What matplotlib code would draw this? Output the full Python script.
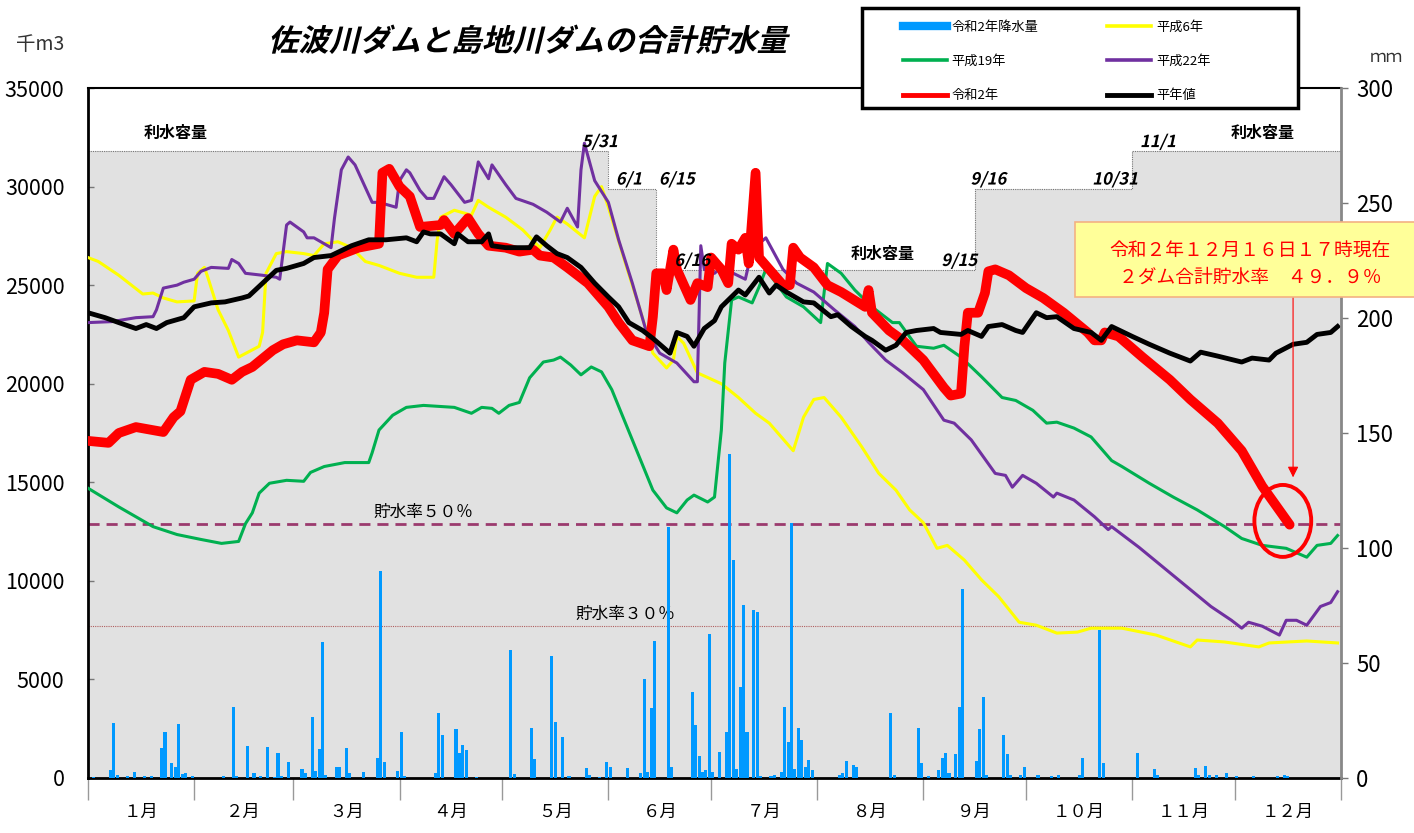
import numpy as np
import matplotlib
matplotlib.use('Agg')
import matplotlib.pyplot as plt
from matplotlib.lines import Line2D
from matplotlib.patches import Rectangle, Ellipse
from matplotlib.patheffects import AbstractPathEffect
from matplotlib.transforms import Affine2D

plt.rcParams['font.family'] = ['Noto Sans CJK JP', 'DejaVu Sans']

# ---------------- data ----------------
month_labels = ['１月', '２月', '３月', '４月', '５月', '６月',
                '７月', '８月', '９月', '１０月', '１１月', '１２月']
month_starts = [0, 31, 60, 91, 121, 152, 182, 213, 244, 274, 305, 335, 366]

# 利水容量 (step levels, 千m3)
cap_days = [0, 152, 166, 259, 305, 366]
cap_vals = [31800, 29900, 25770, 29900, 31800, 31800]

# 令和2年
red_days = [0, 6, 9, 14, 22, 25, 27, 30, 34, 38, 42, 45, 48, 54, 57, 61, 66, 68, 69, 70,
            73, 79, 85, 86, 88, 91, 94, 97, 103, 104, 107, 111, 114, 117, 122, 126, 130,
            132, 136, 140, 146, 152, 155, 159, 164, 165, 166, 168, 169, 171, 172, 176,
            178, 181, 182, 185, 187, 188, 190, 192, 193, 195, 196, 200, 203, 205, 206,
            208, 212, 216, 220, 227, 228, 229, 234, 238, 244, 250, 252, 255, 256, 257,
            260, 262, 263, 265, 269, 274, 279, 285, 292, 294, 296, 297, 301, 308, 316,
            322, 330, 337, 343, 351]
red_vals = [17100, 17000, 17500, 17800, 17550, 18300, 18600, 20200, 20600, 20500, 20200,
            20600, 20850, 21700, 22000, 22200, 22100, 22600, 23600, 25800, 26500, 26900,
            27100, 30700, 30900, 30000, 29500, 27950, 28050, 28300, 27600, 28400, 27600,
            27000, 26900, 26700, 26800, 26500, 26400, 25900, 25100, 23900, 23100, 22200,
            21900, 23400, 25600, 25600, 24750, 26800, 25800, 24250, 25100, 24900, 26400,
            25800, 25100, 27100, 26800, 27400, 26100, 30700, 26400, 25600, 25000, 25000,
            26900, 26400, 25900, 25000, 24650, 23900, 24750, 23600, 22700, 22200, 21200,
            19800, 19400, 19500, 21900, 23600, 23600, 24600, 25700, 25800, 25500, 24850,
            24350, 23600, 22600, 22200, 22200, 22600, 22400, 21350, 20200, 19200, 18000,
            16600, 14800, 12850]

# 平年値
avg_days = [0, 5, 9, 14, 17, 20, 23, 28, 31, 36, 40, 45, 47, 51, 55, 58, 61, 63, 66, 71,
            77, 82, 87, 93, 96, 98, 100, 103, 107, 108, 111, 115, 117, 118, 122, 129, 131,
            134, 137, 140, 144, 148, 152, 155, 158, 162, 165, 170, 172, 175, 177, 180,
            183, 185, 190, 192, 196, 199, 201, 204, 209, 212, 217, 219, 223, 227, 229,
            233, 236, 239, 242, 247, 249, 255, 257, 261, 263, 267, 271, 273, 277, 280,
            283, 288, 293, 296, 299, 305, 310, 316, 322, 325, 330, 337, 340, 345, 347,
            352, 356, 359, 363, 365]
avg_vals = [23600, 23350, 23100, 22800, 23000, 22800, 23100, 23350, 23900, 24100, 24150,
            24350, 24450, 25100, 25750, 25850, 26000, 26100, 26400, 26500, 27000, 27300,
            27300, 27400, 27200, 27700, 27600, 27600, 27100, 27600, 27200, 27200, 27600,
            27000, 26900, 26900, 27450, 27000, 26600, 26400, 25900, 25100, 24400, 23900,
            23100, 22700, 22300, 21550, 22600, 22400, 21900, 22800, 23200, 23900, 24750,
            24500, 25400, 24600, 25000, 24650, 24150, 24100, 23400, 23500, 22900, 22400,
            22200, 21700, 21950, 22600, 22700, 22800, 22600, 22500, 22700, 22400, 22900,
            23000, 22700, 22600, 23600, 23350, 23400, 22800, 22600, 22200, 22900, 22400,
            22000, 21550, 21150, 21600, 21400, 21100, 21300, 21200, 21550, 22000, 22100,
            22500, 22600, 22900]

# 平成22年
h22_days = [0, 7, 14, 19, 20, 22, 26, 28, 31, 33, 36, 41, 42, 44, 46, 51, 55, 56, 58, 59,
            63, 64, 66, 71, 72, 74, 76, 78, 83, 85, 87, 90, 91, 93, 94, 97, 99, 101, 104,
            106, 110, 112, 114, 117, 118, 122, 125, 130, 134, 138, 140, 143, 144, 145,
            148, 152, 155, 159, 163, 167, 172, 177, 178, 179, 180, 183, 185, 192, 194,
            198, 203, 207, 212, 218, 224, 228, 233, 238, 244, 250, 253, 258, 265, 268,
            270, 273, 277, 282, 283, 288, 294, 298, 299, 307, 314, 321, 328, 334, 337,
            339, 343, 348, 350, 353, 356, 360, 363, 365]
h22_vals = [23100, 23150, 23350, 23400, 23750, 24850, 25000, 25150, 25300, 25700, 25900,
            25850, 26300, 26100, 25600, 25500, 25400, 25300, 28050, 28200, 27700, 27400,
            27400, 26900, 28400, 30850, 31500, 31100, 29200, 29200, 29100, 28950, 30300,
            30850, 30700, 29800, 29400, 29400, 30500, 30100, 29200, 29300, 31250, 30400,
            31100, 30100, 29400, 29100, 28700, 28200, 28900, 27950, 30850, 32200, 30300,
            29200, 27300, 25100, 22700, 21550, 21050, 20100, 20100, 27000, 25800, 25600,
            25900, 25300, 26800, 27400, 25800, 25100, 24650, 23750, 22900, 22100, 21200,
            20550, 19700, 18150, 18000, 17150, 15450, 15350, 14750, 15350, 14950, 14250,
            14450, 14100, 13250, 12600, 12750, 11700, 10700, 9700, 8700, 8000, 7600, 7900,
            7700, 7250, 8000, 8000, 7750, 8700, 8900, 9450]

# 平成6年
h6_days = [0, 3, 9, 16, 19, 22, 26, 31, 32, 34, 35, 38, 41, 44, 50, 51, 52, 55, 58, 63, 66,
           69, 73, 77, 81, 85, 91, 96, 101, 102, 103, 107, 112, 114, 117, 122, 127, 132,
           135, 137, 140, 145, 148, 150, 152, 157, 161, 165, 169, 171, 172, 174, 178, 185,
           190, 195, 199, 206, 209, 212, 215, 220, 226, 231, 236, 240, 244, 248, 251, 256,
           261, 266, 272, 277, 283, 289, 293, 302, 312, 322, 324, 332, 342, 345, 356, 365]
h6_vals = [26400, 26200, 25500, 24550, 24600, 24350, 24150, 24200, 25600, 25900, 25400,
           23750, 22700, 21350, 21900, 22600, 25600, 26600, 26700, 26600, 26500, 27100,
           27200, 26900, 26200, 26000, 25600, 25400, 25400, 27300, 28450, 28800, 28550,
           29300, 28950, 28450, 27800, 26900, 27800, 28450, 28100, 27400, 29500, 30000,
           28950, 26100, 23900, 21550, 20800, 21200, 22400, 22050, 20550, 20000, 19300,
           18500, 18000, 16600, 18300, 19200, 19300, 18300, 16800, 15450, 14600, 13600,
           12950, 11650, 11800, 11050, 10050, 9200, 7900, 7750, 7350, 7400, 7600, 7600,
           7250, 6650, 7000, 6900, 6650, 6850, 6950, 6850]

# 平成19年
h19_days = [0, 9, 14, 19, 26, 33, 39, 44, 46, 48, 50, 53, 58, 63, 65, 69, 75, 82, 83, 85,
            89, 93, 98, 107, 112, 115, 118, 120, 123, 126, 129, 133, 136, 138, 141, 144,
            147, 150, 153, 157, 161, 165, 169, 172, 175, 177, 181, 183, 185, 186, 188,
            190, 194, 196, 198, 204, 209, 214, 216, 220, 224, 229, 235, 237, 242, 247,
            250, 255, 261, 267, 271, 276, 280, 283, 288, 293, 299, 302, 310, 317, 324,
            332, 337, 343, 350, 356, 359, 363, 365]
h19_vals = [14700, 13750, 13250, 12750, 12350, 12100, 11900, 12000, 12900, 13450, 14450,
            14950, 15100, 15050, 15500, 15800, 16000, 16000, 16500, 17650, 18400, 18800,
            18900, 18800, 18500, 18800, 18750, 18500, 18900, 19050, 20300, 21100, 21200,
            21350, 20950, 20450, 20850, 20600, 19700, 18000, 16300, 14600, 13700, 13450,
            14100, 14350, 14000, 14250, 17650, 21050, 24250, 24400, 24100, 24900, 25800,
            24400, 23900, 23100, 26100, 25600, 24750, 23900, 23100, 23100, 21900, 21800,
            21950, 21350, 20350, 19300, 19150, 18650, 18000, 18050, 17750, 17300, 16100,
            15800, 14950, 14250, 13600, 12750, 12150, 11800, 11650, 11200, 11800, 11900,
            12300]

# 令和2年降水量 (mm/day)
rain_days = [1, 6, 7, 8, 11, 13, 16, 18, 21, 22, 24, 25, 26, 27, 28, 30, 39, 42, 43, 46,
             48, 50, 52, 54, 55, 56, 58, 62, 63, 65, 66, 67, 68, 69, 72, 73, 75, 76, 80,
             84, 85, 86, 90, 91, 92, 101, 102, 103, 107, 108, 109, 110, 113, 123, 124,
             129, 130, 135, 136, 138, 140, 145, 146, 149, 151, 152, 157, 161, 162, 163,
             164, 165, 169, 170, 176, 177, 178, 179, 180, 181, 182, 184, 186, 187, 188,
             189, 190, 191, 192, 194, 195, 196, 199, 200, 202, 203, 204, 205, 206, 207,
             208, 209, 210, 211, 219, 220, 221, 223, 224, 234, 235, 242, 243, 245, 248,
             249, 250, 251, 253, 254, 255, 259, 260, 261, 262, 267, 268, 269, 272, 273,
             277, 281, 283, 289, 290, 295, 296, 306, 311, 312, 323, 324, 326, 327, 329,
             332, 335, 340, 347, 349, 350]
rain_mm = [0.5, 3.5, 24, 1.5, 1, 2.6, 0.7, 0.7, 13, 20, 6.5, 4.8, 23.5, 1.7, 2.2, 0.8, 0.8,
           31, 0.8, 14, 2.2, 0.8, 13.5, 0.5, 11, 0.8, 7, 3.9, 2.2, 26.5, 3, 12.6, 59, 1.5,
           4.8, 4.8, 13, 2.2, 2.6, 8.7, 90, 7, 3, 20, 0.8, 2.2, 28.3, 18.7, 21.3, 10.9,
           14.3, 12.2, 0.5, 55.7, 1.7, 21.7, 8.3, 53, 24.3, 17.8, 0.8, 4.3, 1.3, 0.5, 7,
           4.8, 4.3, 2.2, 43, 2.6, 30.4, 59.6, 109, 4.8, 37.4, 23, 9.6, 2.6, 3.5, 62.6,
           2.6, 11.3, 20, 141, 94.8, 4, 39.6, 75.2, 20, 73, 72.2, 1, 1, 1.5, 2.6, 31,
           15.7, 110.9, 4, 21.7, 16.5, 4.8, 7.7, 3.5, 1.2, 2, 7.4, 5.6, 4.8, 28.3, 1.2,
           21.7, 6.5, 0.9, 3.3, 8.7, 10.9, 2, 10.4, 31, 82.2, 7.4, 21.3, 35.2, 1.2, 18.7,
           10.4, 1.2, 1.2, 4.8, 1.4, 0.9, 1.2, 1.4, 8.7, 64.3, 6.5, 10.9, 4, 1.2, 4.5,
           1.2, 5.2, 1.2, 1.2, 2.3, 0.9, 0.9, 0.9, 1.4, 0.9]

rate50 = 12880
rate30 = 7710

left_ticks = list(range(0, 35001, 5000))
right_ticks = list(range(0, 301, 50))

# ---------------- helpers ----------------
class Slant(AbstractPathEffect):
    def __init__(self, deg=14):
        super().__init__()
        self._skew = Affine2D().skew_deg(deg, 0)

    def draw_path(self, renderer, gc, tpath, affine, rgbFace=None):
        renderer.draw_path(gc, tpath, self._skew + affine, rgbFace)


NUM_FONT = ['Liberation Sans Narrow', 'Noto Sans CJK JP', 'DejaVu Sans']

# ---------------- figure ----------------
W, H = 1414, 833
fig = plt.figure(figsize=(W / 100, H / 100), dpi=100)
fig.patch.set_facecolor('white')
ax = fig.add_axes([88 / W, 1 - 778 / H, (1341 - 88) / W, (778 - 88) / H])
ax.set_xlim(0, 366)
ax.set_ylim(0, 35000)

# water-use capacity region
ax.fill_between(cap_days, cap_vals, 0, step='post', color='#e1e1e1', lw=0, zorder=0)
ax.step(cap_days, cap_vals, where='post', color='#777777', lw=0.8, ls=(0, (1, 1)), zorder=1)

# reference lines
ax.axhline(rate50, color='#9b3a6e', lw=2.0, ls=(0, (4, 2.5)), zorder=2)
ax.axhline(rate30, color='#b06060', lw=0.8, ls=(0, (1, 1)), zorder=2)

# storage lines
ax.plot(h6_days, h6_vals, color='#ffff00', lw=2.2, zorder=4)
ax.plot(h19_days, h19_vals, color='#00b050', lw=2.2, zorder=4)
ax.plot(h22_days, h22_vals, color='#7030a0', lw=2.2, zorder=4)
ax.plot(red_days, red_vals, color='#ff0000', lw=7, solid_capstyle='round',
        solid_joinstyle='round', zorder=5)
ax.plot(avg_days, avg_vals, color='#000000', lw=3.5, solid_joinstyle='round', zorder=6)

# axes styling
for s in ['left', 'bottom', 'top']:
    ax.spines[s].set_color('black')
ax.spines['left'].set_linewidth(2)
ax.spines['bottom'].set_linewidth(2)
ax.spines['top'].set_linewidth(1.5)
ax.spines['right'].set_visible(False)

ax.set_yticks(left_ticks)
ax.set_yticklabels([str(v) for v in left_ticks], fontfamily=NUM_FONT, fontsize=15.5)
ax.tick_params(axis='y', direction='in', length=4, width=1, color='#777777', pad=17)

ax.set_xticks(month_starts)
ax.set_xticklabels([])
ax.tick_params(axis='x', which='major', direction='out', length=16, width=1, color='#999999')
mids = [(a + b) / 2 for a, b in zip(month_starts[:-1], month_starts[1:])]
ax.set_xticks(mids, minor=True)
ax.set_xticklabels(month_labels, minor=True, fontsize=12.5)
ax.tick_params(axis='x', which='minor', length=0, pad=18)

# rainfall on right axis
ax2 = ax.twinx()
ax2.set_ylim(0, 300)
ax2.bar(np.array(rain_days) + 0.5, rain_mm, width=0.9, color='#0099ff', lw=0, zorder=3)
ax2.set_yticks(right_ticks)
ax2.set_yticklabels([str(v) for v in right_ticks], fontfamily=NUM_FONT, fontsize=16)
ax2.tick_params(axis='y', direction='out', length=5, width=1, color='#777777', pad=6)
for s in ['left', 'bottom', 'top']:
    ax2.spines[s].set_visible(False)
ax2.spines['right'].set_color('#888888')
ax2.spines['right'].set_linewidth(2)

# text labels
lbl_kw = dict(fontsize=11.5, fontweight='bold', color='black', zorder=7)
ax.text(25.5, 32300, '利水容量', ha='center', va='bottom', **lbl_kw)
ax.text(232, 26200, '利水容量', ha='center', va='bottom', **lbl_kw)
ax.text(343, 32300, '利水容量', ha='center', va='bottom', **lbl_kw)

date_kw = dict(fontsize=12, fontweight='bold', fontfamily=NUM_FONT, color='black',
               va='bottom', ha='center', zorder=7)
for d, v, t in [(149.5, 31800, '5/31'), (158, 29900, '6/1'), (172, 29900, '6/15'),
                (176.5, 25770, '6/16'), (254.5, 25770, '9/15'), (263, 29900, '9/16'),
                (300, 29900, '10/31'), (312.5, 31800, '11/1')]:
    t_ = ax.text(d, v, t, **date_kw)
    t_.set_path_effects([Slant(12)])

ax.text(98, rate50 + 150, '貯水率５０％', ha='center', va='bottom', fontsize=12, zorder=7)
ax.text(157, rate30 + 150, '貯水率３０％', ha='center', va='bottom', fontsize=12, zorder=7)

# current status annotation
last_d, last_v = red_days[-1], red_vals[-1]
ax.add_patch(Ellipse((last_d - 2, last_v + 190), 16.6, 3650, fill=False,
                     edgecolor='#ff0000', lw=2.8, zorder=8))
ax.annotate('', xy=(last_d + 1, last_v + 2400), xytext=(last_d + 1, 24400),
            arrowprops=dict(arrowstyle='-|>', color='#ff0000', lw=0.8,
                            mutation_scale=16, shrinkA=0, shrinkB=0), zorder=8)
fig.add_artist(Rectangle((1075 / W, 1 - 297 / H), (W - 1075) / W + 0.01, 75 / H,
                         transform=fig.transFigure, facecolor='#ffff99',
                         edgecolor='#f4b183', lw=1.2, zorder=9))
fig.text(1250 / W, 1 - 251 / H, '令和２年１２月１６日１７時現在', color='#ff0000',
         fontsize=13.5, ha='center', va='center', zorder=10)
fig.text(1250 / W, 1 - 277 / H, '２ダム合計貯水率　４９．９％', color='#ff0000',
         fontsize=13.5, ha='center', va='center', zorder=10)

# title & units
ttl = fig.text(527 / W, 1 - 42 / H, '佐波川ダムと島地川ダムの合計貯水量', fontsize=22,
               fontweight='bold', ha='center', va='center')
ttl.set_path_effects([Slant(14)])
fig.text(40 / W, 1 - 44 / H, '千m3', fontsize=14, ha='center', va='center', color='#333333')
fig.text(1386 / W, 1 - 58 / H, 'ｍｍ', fontsize=12, ha='center', va='center', color='#333333')

# legend
fig.add_artist(Rectangle((862 / W, 1 - 108 / H), (1298 - 862) / W, 100 / H,
                         transform=fig.transFigure, facecolor='white',
                         edgecolor='black', lw=2.5, zorder=9))
handles = [Line2D([], [], color='#0099ff', lw=6),
           Line2D([], [], color='#00b050', lw=2.6),
           Line2D([], [], color='#ff0000', lw=3.5),
           Line2D([], [], color='#ffff00', lw=2.6),
           Line2D([], [], color='#7030a0', lw=2.6),
           Line2D([], [], color='#000000', lw=3.5)]
labels = ['令和2年降水量', '平成19年', '令和2年', '平成6年', '平成22年', '平年値']
leg = fig.legend(handles, labels, ncol=2, loc='upper left',
                 bbox_to_anchor=(903 / W, 1 - 21 / H), frameon=False, fontsize=9.5,
                 handlelength=3.3, handletextpad=0.4, columnspacing=5.2,
                 labelspacing=1.6, borderpad=0, borderaxespad=0)
leg.set_zorder(10)

fig.savefig('out.png', dpi=100)
